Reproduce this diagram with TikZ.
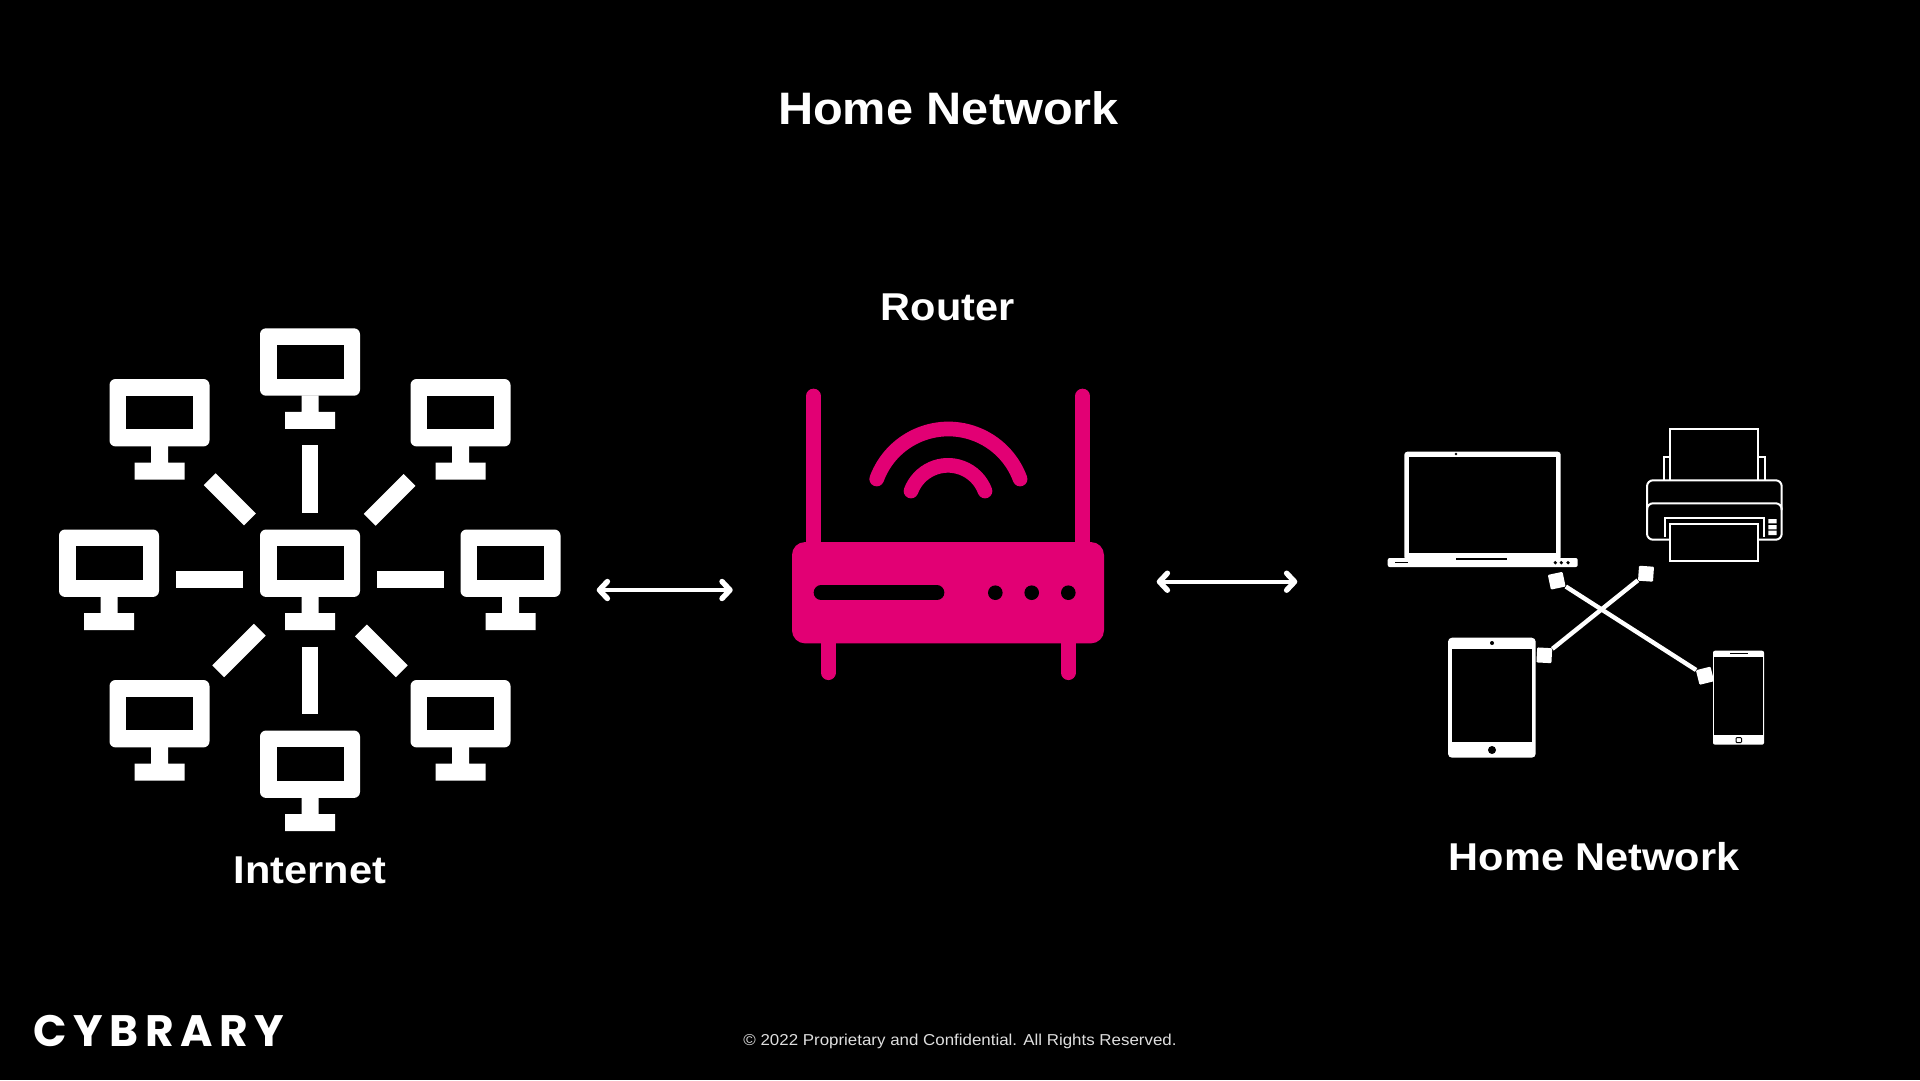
\documentclass[tikz,border=0pt]{standalone}
\usepackage{fontspec}
\usepackage{xcolor}
\usetikzlibrary{arrows.meta,positioning}
\setmainfont{Liberation Sans}[FakeStretch=1.07]
\newfontfamily\logofont[LetterSpace=15]{Poppins}
\definecolor{routerpink}{HTML}{E20074}

\begin{document}
\begin{tikzpicture}[x=1pt,y=-1pt,
    heading/.style={text=white,font=\fontsize{45.5}{50}\selectfont\bfseries,inner sep=0pt,anchor=base},
    sublabel/.style={text=white,font=\fontsize{38.8}{44}\selectfont\bfseries,inner sep=0pt,anchor=base},
    routerbody/.style={fill=routerpink,rounded corners=13pt,minimum width=312pt,minimum height=101.3pt,inner sep=0pt},
    port/.style={fill=white,rounded corners=1pt,minimum size=15pt,inner sep=0pt},
    bar/.style={draw=white,line width=16.7pt},
    wave/.style={draw=routerpink,line width=14.7pt,line cap=round},
    link/.style={draw=white,line width=4.4pt,{Straight Barb[length=8pt,width=17pt,round,line width=5.4pt]}-{Straight Barb[length=8pt,width=17pt,round,line width=5.4pt]}},
    outline/.style={draw=white,line width=2pt},
    monitor/.pic={
      \coordinate (-c) at (0,0);
      \fill[white,rounded corners=6pt] (-50,-50) rectangle (50,17.4);
      \fill[black] (-33.5,-33.5) rectangle (33.5,0.2);
      \fill[white] (-8.5,17) rectangle (8.5,34) (-25,33.6) rectangle (25,50.6);
    }]
   \fill[black] (0,0) rectangle (1920,1080);
   \useasboundingbox (0,0) rectangle (1920,1080);

   \node[heading] (title) at (948.5,124.3) {Home Network};
   \node[sublabel] (router_label) at (947.7,320) {Router};
   \node[sublabel] (internet_label) at (310,883.4) {Internet};
   \node[sublabel] (home_label) at (1594.3,870.5) {Home Network};
   \node[text=white!87!black,font=\fontsize{15.8}{20}\selectfont,inner sep=0pt,anchor=base] (footer) at (960,1045.3)
      {© 2022 Proprietary and Confidential. All Rights Reserved.};
   \node[text=white,font=\fontsize{44}{48}\logofont\bfseries,inner sep=0pt,anchor=base west] (logo) at (33,1046.7) {CYBRARY};

   \pic (hub) at (310,579.5) {monitor};
   \pic (net_1) at (310,378.3) {monitor};
   \pic (net_2) at (460.5,429) {monitor};
   \pic (net_3) at (510.5,579.5) {monitor};
   \pic (net_4) at (460.5,730) {monitor};
   \pic (net_5) at (310,780.5) {monitor};
   \pic (net_6) at (159.5,730) {monitor};
   \pic (net_7) at (109,579.5) {monitor};
   \pic (net_8) at (159.5,429) {monitor};
   \path[bar]
    (hub-c) edge [shorten <=67pt,shorten >=67pt] (net_1-c)
            edge [shorten <=84.5pt,shorten >=72pt] (net_2-c)
            edge [shorten <=67pt,shorten >=67pt] (net_3-c)
            edge [shorten <=72pt,shorten >=83pt] (net_4-c)
            edge [shorten <=67pt,shorten >=67pt] (net_5-c)
            edge [shorten <=71pt,shorten >=83pt] (net_6-c)
            edge [shorten <=67pt,shorten >=67pt] (net_7-c)
            edge [shorten <=85pt,shorten >=71pt] (net_8-c);

   \node[routerbody] (router) at (948,592.7) {};
   \draw[routerpink,line width=14.7pt,line cap=round]
    (813.5,396) -- (813.5,550) (1082.7,396) -- (1082.7,550)
    (828.3,640) -- (828.3,672.7) (1068.3,640) -- (1068.3,672.7);
   \draw[wave] (876.7,479) arc[start angle=200.2,end angle=339.8,radius=76.4];
   \draw[wave] (911,491) arc[start angle=200.5,end angle=339.5,radius=39.5];
   \draw[black,line width=14.7pt,line cap=round] (821,592.7) -- (937,592.7);
   \fill[black] (995.3,592.7) circle[radius=7.3] (1031.7,592.7) circle[radius=7.3] (1068.3,592.7) circle[radius=7.3];

   \coordinate (left_a) at (596.7,590);
   \coordinate (left_b) at (732.7,590);
   \coordinate (right_a) at (1156.7,581.7);
   \coordinate (right_b) at (1297.3,581.7);
   \draw[link] (left_a) -- (left_b);
   \draw[link] (right_a) -- (right_b);

   % laptop
   \fill[white,rounded corners=3pt] (1404.3,451.7) rectangle (1560.7,560);
   \fill[black] (1409,456.7) rectangle (1556,553.3);
   \fill[white,rounded corners=2pt] (1387.7,558) rectangle (1577.7,567);
   \fill[black] (1456,558) rectangle (1506.5,559.5);
   \fill[black] (1395,562) rectangle (1407.7,563.3);
   \fill[black] (1456,454) circle[radius=1.3]
      (1555.3,562.7) circle[radius=1.8] (1561.3,562.7) circle[radius=1.8] (1568,562.7) circle[radius=1.8];

   % printer
   \draw[outline] (1670.3,480) -- (1670.3,429.3) -- (1758.3,429.3) -- (1758.3,480);
   \draw[outline] (1670,456.7) -- (1663.7,456.7) -- (1663.7,480) (1758.6,456.7) -- (1765,456.7) -- (1765,480);
   \draw[outline,rounded corners=6pt] (1647,480.3) rectangle (1781.7,539.7);
   \draw[outline,rounded corners=6pt] (1647,510) -- (1647,503.3) -- (1781.7,503.3) -- (1781.7,510);
   \draw[outline] (1664.7,537) -- (1664.7,518) -- (1764,518) -- (1764,537);
   \fill[black] (1670.3,524) rectangle (1758.3,560);
   \draw[outline] (1670.3,524.3) rectangle (1758.3,561.3);
   \fill[white] (1768.3,519) rectangle (1776.7,523.3) (1768.3,525) rectangle (1776.7,529.3) (1768.3,530.7) rectangle (1776.7,535);

   % tablet
   \fill[white,rounded corners=4pt] (1448,637.7) rectangle (1535.7,757.7);
   \fill[black] (1451.7,649.3) rectangle (1532,741.7);
   \fill[black] (1492,643) circle[radius=2] (1492,750) circle[radius=4];

   % phone
   \fill[white,rounded corners=2pt] (1713,650.7) rectangle (1764,744.7);
   \fill[black] (1714.3,657) rectangle (1763,735);
   \fill[black] (1729.5,653.2) rectangle (1747.7,654.2);
   \draw[black,line width=1pt,rounded corners=1pt] (1736,737.5) rectangle (1741.5,742.7);

   \node[port,rotate=12] (port_1) at (1556.7,580.7) {};
   \node[port,rotate=14] (port_2) at (1705,675.7) {};
   \node[port,rotate=-4] (port_3) at (1646,573.7) {};
   \node[port,rotate=-3] (port_4) at (1544.3,655.3) {};
   \draw[white,line width=4.4pt] (port_1) -- (port_2);
   \draw[white,line width=4.4pt] (port_3) -- (port_4);
\end{tikzpicture}
\end{document}
